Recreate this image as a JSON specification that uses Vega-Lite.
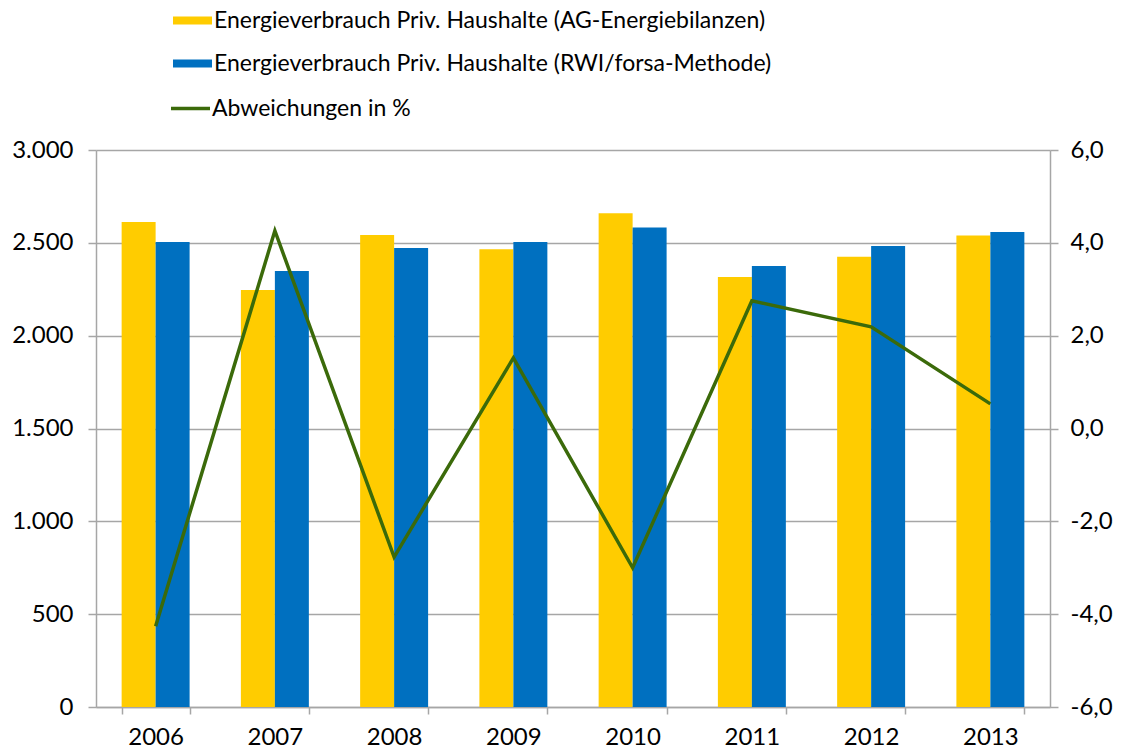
{
  "$schema": "https://vega.github.io/schema/vega-lite/v6.json",
  "width": 954,
  "height": 557,
  "autosize": {"type": "none"},
  "padding": {"left": 96, "top": 150, "right": 71, "bottom": 44},
  "background": "white",
  "config": {
    "locale": {"number": {"decimal": ",", "thousands": ".", "grouping": [3], "currency": ["", " €"], "minus": "-"}},
    "font": "Lato",
    "view": {"stroke": null},
    "axis": {
      "labelFont": "Lato",
      "labelFontSize": 23,
      "labelColor": "#000000",
      "domainColor": "#A6A6A6",
      "tickColor": "#A6A6A6",
      "gridColor": "#A6A6A6",
      "domainWidth": 1.5,
      "tickWidth": 1.5,
      "gridWidth": 1.5,
      "title": null
    },
    "legend": {
      "labelFont": "Lato",
      "labelFontSize": 23,
      "labelColor": "#000000",
      "labelLimit": 0,
      "padding": 0,
      "title": null
    }
  },
  "datasets": {
    "bars": [
      {"Jahr": "2006", "Reihe": "Energieverbrauch Priv. Haushalte (AG-Energiebilanzen)", "Wert": 2612},
      {"Jahr": "2006", "Reihe": "Energieverbrauch Priv. Haushalte (RWI/forsa-Methode)", "Wert": 2504},
      {"Jahr": "2007", "Reihe": "Energieverbrauch Priv. Haushalte (AG-Energiebilanzen)", "Wert": 2246},
      {"Jahr": "2007", "Reihe": "Energieverbrauch Priv. Haushalte (RWI/forsa-Methode)", "Wert": 2348},
      {"Jahr": "2008", "Reihe": "Energieverbrauch Priv. Haushalte (AG-Energiebilanzen)", "Wert": 2542},
      {"Jahr": "2008", "Reihe": "Energieverbrauch Priv. Haushalte (RWI/forsa-Methode)", "Wert": 2472},
      {"Jahr": "2009", "Reihe": "Energieverbrauch Priv. Haushalte (AG-Energiebilanzen)", "Wert": 2466},
      {"Jahr": "2009", "Reihe": "Energieverbrauch Priv. Haushalte (RWI/forsa-Methode)", "Wert": 2504},
      {"Jahr": "2010", "Reihe": "Energieverbrauch Priv. Haushalte (AG-Energiebilanzen)", "Wert": 2660},
      {"Jahr": "2010", "Reihe": "Energieverbrauch Priv. Haushalte (RWI/forsa-Methode)", "Wert": 2582},
      {"Jahr": "2011", "Reihe": "Energieverbrauch Priv. Haushalte (AG-Energiebilanzen)", "Wert": 2316},
      {"Jahr": "2011", "Reihe": "Energieverbrauch Priv. Haushalte (RWI/forsa-Methode)", "Wert": 2375},
      {"Jahr": "2012", "Reihe": "Energieverbrauch Priv. Haushalte (AG-Energiebilanzen)", "Wert": 2425},
      {"Jahr": "2012", "Reihe": "Energieverbrauch Priv. Haushalte (RWI/forsa-Methode)", "Wert": 2483},
      {"Jahr": "2013", "Reihe": "Energieverbrauch Priv. Haushalte (AG-Energiebilanzen)", "Wert": 2540},
      {"Jahr": "2013", "Reihe": "Energieverbrauch Priv. Haushalte (RWI/forsa-Methode)", "Wert": 2558}
    ],
    "line": [
      {"Jahr": "2006", "Abweichung": -4.26},
      {"Jahr": "2007", "Abweichung": 4.26},
      {"Jahr": "2008", "Abweichung": -2.77},
      {"Jahr": "2009", "Abweichung": 1.52},
      {"Jahr": "2010", "Abweichung": -3.0},
      {"Jahr": "2011", "Abweichung": 2.75},
      {"Jahr": "2012", "Abweichung": 2.19},
      {"Jahr": "2013", "Abweichung": 0.53}
    ]
  },
  "layer": [
    {
      "data": {"name": "bars"},
      "mark": {"type": "bar"},
      "encoding": {
        "x": {
          "field": "Jahr",
          "type": "nominal",
          "scale": {"paddingInner": 0.43, "paddingOuter": 0.215},
          "axis": {
            "labelAngle": 0,
            "tickBand": "extent",
            "tickSize": 7,
            "labelPadding": 11,
            "labelFontSize": 24,
            "grid": false
          }
        },
        "xOffset": {
          "field": "Reihe",
          "type": "nominal",
          "sort": ["Energieverbrauch Priv. Haushalte (AG-Energiebilanzen)", "Energieverbrauch Priv. Haushalte (RWI/forsa-Methode)"],
          "scale": {"paddingInner": 0, "paddingOuter": 0}
        },
        "y": {
          "field": "Wert",
          "type": "quantitative",
          "scale": {"domain": [0, 3000], "nice": false},
          "axis": {
            "values": [0, 500, 1000, 1500, 2000, 2500, 3000],
            "format": ",.0f",
            "tickSize": 8,
            "labelPadding": 15,
            "labelFontSize": 24,
            "grid": true
          }
        },
        "color": {
          "field": "Reihe",
          "type": "nominal",
          "scale": {
            "domain": ["Energieverbrauch Priv. Haushalte (AG-Energiebilanzen)", "Energieverbrauch Priv. Haushalte (RWI/forsa-Methode)"],
            "range": ["#FFCC00", "#0070C0"]
          },
          "legend": {
            "orient": "none",
            "legendX": 77,
            "legendY": -149,
            "symbolType": "M-1,-0.2L1,-0.2L1,0.2L-1,0.2Z",
            "symbolSize": 1521,
            "symbolStrokeWidth": 0,
            "symbolOpacity": 1,
            "labelOffset": 2,
            "rowPadding": 11
          }
        }
      }
    },
    {
      "data": {"name": "line"},
      "mark": {"type": "line", "strokeWidth": 3.5},
      "encoding": {
        "x": {"field": "Jahr", "type": "nominal"},
        "y": {
          "field": "Abweichung",
          "type": "quantitative",
          "scale": {"domain": [-6, 6], "nice": false},
          "axis": {
            "orient": "right",
            "values": [-6, -4, -2, 0, 2, 4, 6],
            "format": ".1f",
            "tickSize": 8,
            "labelPadding": 12,
            "labelFontSize": 24,
            "grid": false
          }
        },
        "stroke": {
          "datum": "Abweichungen in %",
          "type": "nominal",
          "scale": {"range": ["#3B6A0A"]},
          "legend": {
            "orient": "none",
            "legendX": 73,
            "legendY": -63,
            "symbolType": "stroke",
            "symbolSize": 1521,
            "symbolStrokeWidth": 3.5,
            "labelOffset": 0
          }
        }
      }
    }
  ],
  "resolve": {"scale": {"y": "independent", "color": "independent"}}
}
